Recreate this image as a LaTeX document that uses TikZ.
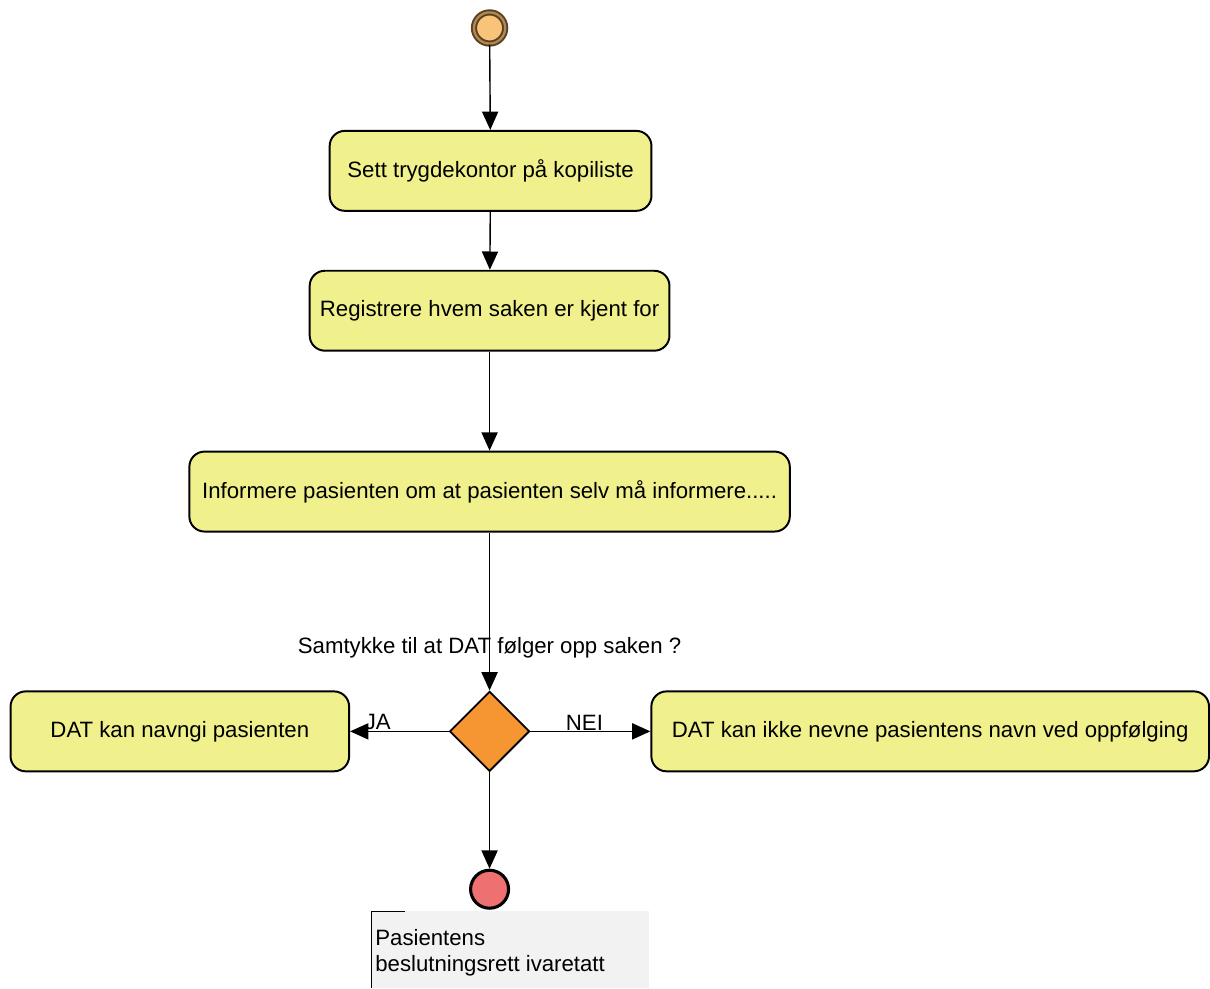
\documentclass[tikz,border=0pt]{standalone}
\usepackage{fontspec}
\setmainfont{Liberation Sans}
\usetikzlibrary{shapes.geometric,arrows.meta}
\definecolor{actfill}{RGB}{240,240,140}
\definecolor{decfill}{RGB}{246,150,50}
\definecolor{startfill}{RGB}{248,196,122}
\definecolor{startring}{RGB}{90,65,35}
\definecolor{endfill}{RGB}{238,112,112}
\definecolor{notefill}{RGB}{242,242,242}
\begin{document}
\begin{tikzpicture}[x=0.025cm,y=-0.025cm,
  font=\fontsize{15.8}{20}\selectfont,
  act/.style={draw, line width=1.4pt, fill=actfill, rounded corners=0.38cm, minimum height=2cm, inner sep=0pt},
  flow/.style={line width=1pt, -{Triangle[length=13pt,width=11.5pt]}}]
  \fill[white] (0,0) rectangle (1210,989);
  \node[circle, fill=startfill, draw=startring, double=startfill!55!startring, double distance=1.6pt, line width=1.4pt, minimum size=0.78cm, inner sep=0pt] (start) at (490,28) {};
  \node[act, minimum width=8.05cm] (kopi) at (491,171) {Sett trygdekontor på kopiliste};
  \node[act, minimum width=9cm] (reg) at (490,311) {Registrere hvem saken er kjent for};
  \node[act, minimum width=15.02cm] (info) at (490,492) {Informere pasienten om at pasienten selv må informere.....};
  \node (sam) at (490,648) {Samtykke til at DAT følger opp saken ?};
  \node[diamond, draw, line width=1.3pt, fill=decfill, minimum size=2cm, inner sep=0pt] (dec) at (490,732) {};
  \node[act, minimum width=8.47cm] (ja) at (180,732) {DAT kan navngi pasienten};
  \node[act, minimum width=13.95cm] (nei) at (931,732) {DAT kan ikke nevne pasientens navn ved oppfølging};
  \node[circle, draw, line width=2.2pt, fill=endfill, minimum size=0.95cm, inner sep=0pt] (stop) at (490,890) {};
  \fill[notefill] (372,912) rectangle (650,989);
  \draw[line width=0.8pt] (405,912) -- (372,912) -- (372,989);
  \node[anchor=west, inner sep=1pt] (note1) at (374,938) {Pasientens};
  \node[anchor=west, inner sep=1pt] (note2) at (374,967) {beslutningsrett ivaretatt};
  \draw[flow] (start) -- (kopi);
  \draw[flow] (kopi) -- (reg);
  \draw[flow] (reg) -- (info);
  \draw[flow] (info) -- (dec);
  \draw[flow] (dec) -- node[pos=0.72, above=-3pt] {JA} (ja);
  \draw[flow] (dec) -- node[pos=0.45, above=-3pt] {NEI} (nei);
  \draw[flow] (dec) -- (stop);
\end{tikzpicture}
\end{document}
